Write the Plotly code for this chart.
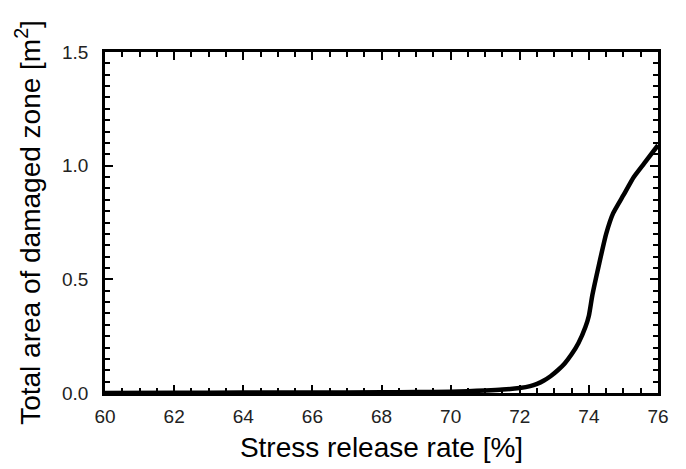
import plotly.graph_objects as go

stress_rate = [60, 62, 64, 66, 68, 69, 70, 70.5, 71, 71.5, 72, 72.3, 72.5, 72.7, 72.9,
               73.1, 73.3, 73.5, 73.7, 73.9, 74.0, 74.1, 74.3, 74.5, 74.7, 75.0, 75.3, 75.6, 76.0]
damaged_area = [0.0, 0.001, 0.002, 0.002, 0.003, 0.004, 0.006, 0.008, 0.011, 0.015, 0.022, 0.030,
                0.040, 0.055, 0.075, 0.100, 0.130, 0.170, 0.220, 0.290, 0.340, 0.430, 0.570,
                0.700, 0.790, 0.870, 0.950, 1.010, 1.090]

FONT = "Liberation Sans, Arial, sans-serif"

fig = go.Figure()
fig.add_trace(go.Scatter(x=stress_rate, y=damaged_area, mode="lines",
                         line=dict(color="black", width=4.5, shape="spline", smoothing=0.5),
                         showlegend=False, hoverinfo="skip"))

axis_common = dict(
    showline=True, linecolor="black", linewidth=2.5, mirror="allticks",
    ticks="inside", ticklen=8, tickwidth=2, tickcolor="black",
    showgrid=False, zeroline=False,
    tickfont=dict(family=FONT, size=19, color="#222"),
)

fig.update_xaxes(range=[60, 76], dtick=2, tick0=60,
                 title=dict(text="Stress release rate [%]", font=dict(family=FONT, size=28, color="black"), standoff=12),
                 minor=dict(dtick=0.5, ticks="inside", ticklen=5, tickwidth=1.5, tickcolor="black", showgrid=False),
                 ticklabelstandoff=4,
                 **axis_common)
fig.update_yaxes(range=[0, 1.5], dtick=0.5, tick0=0, tickformat=".1f",
                 title=dict(text="Total area of damaged zone [m<sup>2</sup>]", font=dict(family=FONT, size=28, color="black"), standoff=14),
                 minor=dict(dtick=0.05, ticks="inside", ticklen=5, tickwidth=1.5, tickcolor="black", showgrid=False),
                 ticklabelstandoff=10,
                 **axis_common)

fig.update_layout(width=686, height=469, margin=dict(l=105, r=28, t=52, b=76),
                  plot_bgcolor="white", paper_bgcolor="white")

fig.write_html("out.html")
